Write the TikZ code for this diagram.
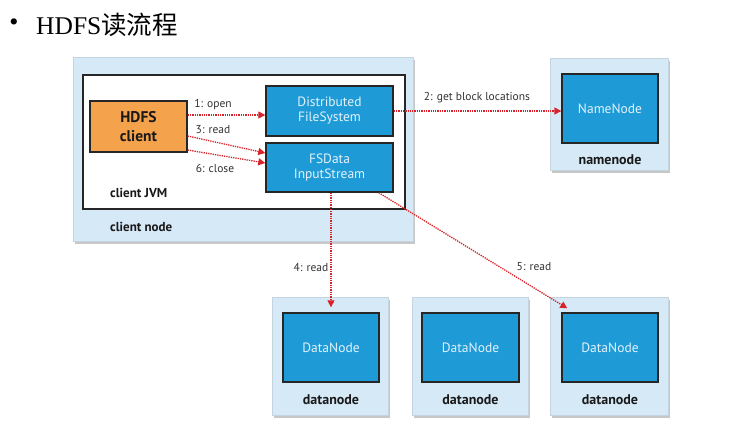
\documentclass[tikz,border=0pt]{standalone}
\usepackage{fontspec}
\setmainfont{PT Sans}
\newfontfamily\titlefont{Liberation Serif}
\newfontfamily\cjk{Noto Sans CJK SC}
\usetikzlibrary{arrows.meta,shadows}
\definecolor{lightbg}{HTML}{D6E9F7}
\definecolor{innerblue}{HTML}{1E9BD7}
\definecolor{orangebox}{HTML}{F4A24C}
\definecolor{redarrow}{HTML}{D8232A}
\definecolor{labelgray}{HTML}{333333}
\definecolor{innertext}{HTML}{E3F2FB}
\tikzset{
  outerbox/.style={fill=lightbg, draw=lightbg!80!gray, line width=0.4pt, inner sep=0pt,
    drop shadow={shadow xshift=2pt, shadow yshift=-2.5pt, fill=gray!55, opacity=0.8}},
  jvmbox/.style={fill=white, draw=black!85, line width=1.4pt, inner sep=0pt},
  bluebox/.style={fill=innerblue, draw=black!85, line width=1.4pt, inner sep=0pt,
    text=innertext, font=\fontsize{13.5}{15}\selectfont, align=center},
  orangebx/.style={fill=orangebox, draw=black!85, line width=1.4pt, inner sep=0pt,
    text=black!90, font=\bfseries\fontsize{15.5}{19}\selectfont, align=center},
  boldlabel/.style={font=\bfseries\fontsize{13}{14}\selectfont, text=black!90, inner sep=0pt},
  arrlabel/.style={font=\fontsize{11.5}{12}\selectfont, text=labelgray, inner sep=0pt},
  redarr/.style={draw=redarrow, densely dotted, line width=1.3pt,
    -{Triangle[length=7pt,width=7pt,fill=redarrow]}},
}
\begin{document}
\begin{tikzpicture}[x=1pt,y=-1pt]
\useasboundingbox[fill=white] (0,0) rectangle (750,445);

% title
\node[inner sep=0pt] (bullet) at (14,25) {\titlefont\fontsize{26}{26}\selectfont •};
\node[inner sep=0pt, anchor=west] (title) at (36,25) {\titlefont\fontsize{25.5}{26}\selectfont HDFS\cjk 读流程};

% client node
\node[outerbox, minimum width=340pt, minimum height=184pt] (cn) at (243,149) {};
\node[jvmbox, minimum width=322pt, minimum height=134pt] (jvm) at (244,142) {};
\node[orangebx, minimum width=97pt, minimum height=51pt] (hc) at (138.5,126.5) {HDFS\\client};
\node[bluebox, minimum width=127pt, minimum height=50pt] (dfs) at (329.5,111) {Distributed\\FileSystem};
\node[bluebox, minimum width=127pt, minimum height=49pt] (fs) at (329.5,167.5) {FSData\\InputStream};
\node[boldlabel, anchor=west] (jvmlbl) at (110,193) {client JVM};
\node[boldlabel, anchor=west] (cnlbl) at (110,227) {client node};

% namenode
\node[outerbox, minimum width=118pt, minimum height=112pt] (nno) at (609,114) {};
\node[bluebox, minimum width=96pt, minimum height=69pt] (nn) at (610,108.5) {NameNode};
\node[boldlabel, font=\bfseries\fontsize{14}{15}\selectfont] (nnlbl) at (610,160) {namenode};

% datanodes
\node[outerbox, minimum width=116pt, minimum height=118pt] (dno1) at (330,356) {};
\node[bluebox, minimum width=96pt, minimum height=69pt] (dn1) at (331,347.5) {DataNode};
\node[boldlabel, font=\bfseries\fontsize{14}{15}\selectfont] (dl1) at (331,400) {datanode};

\node[outerbox, minimum width=116pt, minimum height=118pt] (dno2) at (470,356) {};
\node[bluebox, minimum width=97pt, minimum height=69pt] (dn2) at (470.5,347.5) {DataNode};
\node[boldlabel, font=\bfseries\fontsize{14}{15}\selectfont] (dl2) at (470.5,400) {datanode};

\node[outerbox, minimum width=118pt, minimum height=118pt] (dno3) at (609,356) {};
\node[bluebox, minimum width=96pt, minimum height=69pt] (dn3) at (610,347.5) {DataNode};
\node[boldlabel, font=\bfseries\fontsize{14}{15}\selectfont] (dl3) at (610,400) {datanode};

% arrows
\draw[redarr] ([yshift=11.5pt]hc.east) -- ([yshift=-4pt]dfs.west);
\draw[redarr] ([yshift=-9.5pt]hc.east) -- ([yshift=14.5pt]fs.west);
\draw[redarr] ([yshift=-23.5pt]hc.east) -- ([yshift=4.5pt]fs.west);
\draw[redarr] (dfs.east) -- ([yshift=-2.5pt]nn.west);
\draw[redarr] ([xshift=1.5pt]fs.south) -- ([yshift=5pt]dn1.north);
\draw[redarr] ([xshift=-15pt]fs.south east) -- ([xshift=6pt,yshift=4pt]dn3.north west);

% arrow labels
\node[arrlabel] (l1) at (213,105) {1: open};
\node[arrlabel] (l3) at (213,130) {3: read};
\node[arrlabel] (l6) at (215,168) {6: close};
\node[arrlabel] (l2) at (477,98) {2: get block locations};
\node[arrlabel] (l4) at (311,267) {4: read};
\node[arrlabel] (l5) at (534,267) {5: read};
\end{tikzpicture}
\end{document}
